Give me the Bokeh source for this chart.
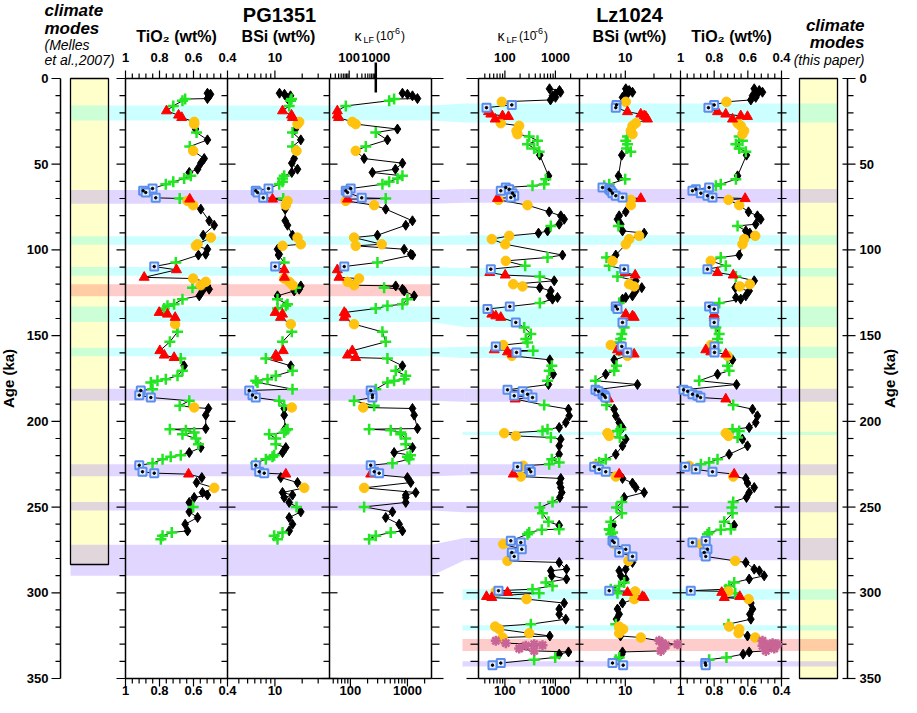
import numpy as np
from bokeh.plotting import figure
from bokeh.models import Range1d, LogScale, LinearScale
from bokeh.embed import file_html
from bokeh.resources import INLINE
from bokeh.core.properties import value

# ---------------- data: PG1351 ----------------
PG_AGE = [8.6, 9.2, 10.1, 11.7, 12.0, 13.0, 16.0, 18.9, 21.4, 22.8,
          25.3, 26.6, 29.5, 31.5, 35.8, 39.7, 42.2, 46.7, 49.4, 52.9,
          54.8, 56.8, 58.3, 60.3, 61.7, 64.2, 65.5, 66.5, 69.6, 70.0,
          70.4, 71.4, 73.9, 76.2, 83.0, 85.6, 91.4, 92.8, 96.7, 97.6,
          99.6, 102.5, 103.0, 107.3, 109.7, 111.6, 116.0, 116.7, 118.6, 120.6,
          121.0, 122.0, 122.9, 123.9, 126.8, 128.7, 131.7, 132.6, 134.2, 136.5,
          137.5, 139.4, 143.3, 147.8, 153.6, 158.8, 161.4, 162.8, 163.3, 167.6,
          170.5, 173.4, 175.4, 176.3, 177.3, 181.2, 182.0, 184.7, 186.1, 188.0,
          190.9, 191.9, 192.5, 196.4, 204.2, 204.6, 205.2, 206.5, 207.5, 210.0,
          213.3, 215.3, 218.2, 219.7, 220.7, 222.1, 224.4, 225.6, 229.4, 230.2,
          230.8, 232.8, 235.7, 238.8, 241.5, 243.0, 244.4, 247.3, 249.9, 252.8,
          256.1, 260.0, 263.9, 264.8, 266.8, 268.7]
PG_CLS = list("KKKKGGGRRR" "YYKGKGYKKK" "KGGGGBBBBG" "RYYKKKKYYY" "KKKGBRRYYY"
              "KGKKKGGGGR" "RRYGGRRRGK" "GGGGGGBBBG" "GYKKKGGGGG" "GKKGGGGBBB"
              "RKKYKKKKGK" "KKKGGG")
PG_TIO2 = [0.518, 0.500, 0.506, 0.518, 0.649, 0.665, 0.719, 0.759, 0.688, 0.669,
           0.596, 0.596, 0.588, 0.582, 0.518, 0.622, 0.602, 0.537, 0.557, 0.576,
           0.625, 0.616, 0.655, 0.719, 0.763, 0.841, 0.896, 0.881, 0.822, 0.681,
           0.622, 0.635, 0.602, 0.557, 0.508, 0.478, 0.543, 0.498, 0.576, 0.586,
           0.518, 0.528, 0.571, 0.704, 0.831, 0.700, 0.890, 0.602, 0.528, 0.557,
           0.518, 0.606, 0.508, 0.547, 0.566, 0.665, 0.714, 0.753, 0.772, 0.802,
           0.753, 0.708, 0.708, 0.694, 0.739, 0.798, 0.772, 0.714, 0.675, 0.655,
           0.665, 0.694, 0.763, 0.812, 0.851, 0.841, 0.910, 0.919, 0.851, 0.625,
           0.681, 0.596, 0.512, 0.528, 0.528, 0.739, 0.645, 0.596, 0.665, 0.586,
           0.571, 0.557, 0.625, 0.675, 0.734, 0.782, 0.841, 0.919, 0.900, 0.831,
           0.629, 0.551, 0.582, 0.478, 0.547, 0.518, 0.596, 0.625, 0.602, 0.625,
           0.576, 0.649, 0.635, 0.728, 0.782, 0.792]
PG_BSI = [11.24, 12.76, 14.86, 13.77, 15.24, 14.86, 14.37, 12.13, 15.24, 15.63,
          18.53, 17.75, 16.87, 15.63, 19.3, 15.63, 17.3, 16.32, 15.35, 17.75,
          15.35, 12.66, 12.13, 12.13, 11.15, 8.50, 6.15, 6.43, 7.43, 12.35,
          9.40, 13.77, 13.19, 12.99, 12.99, 13.77, 15.63, 17.75, 19.3, 12.13,
          10.68, 11.15, 10.96, 12.66, 10.07, 12.66, 12.76, 12.66, 14.37, 15.63,
          19.3, 17.0, 18.53, 16.32, 10.68, 10.68, 13.77, 13.19, 10.68, 10.07,
          12.13, 11.53, 14.97, 15.35, 12.13, 12.35, 10.23, 10.68, 7.94, 14.97,
          15.63, 10.23, 8.29, 6.15, 6.43, 15.63, 5.21, 5.66, 6.15, 11.15,
          12.66, 15.35, 12.66, 12.66, 12.99, 13.77, 13.19, 12.66, 8.65, 10.23,
          10.23, 13.19, 12.13, 9.82, 9.40, 7.94, 6.15, 6.15, 6.71, 7.62,
          13.19, 11.61, 17.75, 21.05, 12.13, 15.63, 12.66, 14.37, 17.3, 19.3,
          14.37, 15.63, 14.37, 12.13, 9.82, 10.68]
PG_KLF = [817, 1000, 1224, 1498, 584, 478, 83, 59, 59, 62,
          108, 124, 668, 278, 446, 186, 124, 174, 817, 616,
          243, 817, 668, 478, 364, 101, 83, 89, 158, 416,
          89, 83, 261, 416, 1224, 934, 298, 116, 354, 124,
          875, 1143, 1224, 298, 78, 59, 63, 142, 89, 116,
          623, 390, 817, 875, 1311, 1000, 817, 446, 278, 78,
          83, 78, 116, 364, 416, 108, 89, 124, 446, 817,
          623, 934, 875, 584, 446, 278, 227, 243, 243, 116,
          261, 167, 1224, 1311, 1498, 213, 509, 763, 763, 934,
          934, 1224, 584, 1129, 1000, 1071, 546, 227, 261, 319,
          227, 1000, 1143, 174, 1398, 934, 934, 934, 174, 546,
          416, 715, 817, 509, 278, 213]

# ---------------- data: Lz1024 ----------------
LZ_AGE = [6, 7, 8, 9, 10, 11, 12.5, 13.6, 15.4, 17,
          19.4, 20.8, 21.8, 22.2, 23.7, 26.1, 27.6, 30.5, 32.5, 33.8,
          36.3, 38.3, 40.8, 42.8, 44.7, 56.8, 58.7, 61.7, 62.6, 63.6,
          64.6, 65.5, 66.9, 68.4, 69.4, 70.0, 70.8, 73.9, 77.8, 80.1,
          82.1, 85.0, 86.0, 88.9, 90.2, 91.8, 93.7, 96.7, 103, 104.4,
          106.4, 109.3, 111.2, 113.2, 114.7, 115.5, 118, 120, 121.3, 122,
          123.9, 126.8, 127.7, 128.7, 131, 133, 134.5, 137.5, 138.5, 139.4,
          142.3, 145.2, 149.1, 152, 154, 155.5, 156.3, 158.3, 158.8, 159.5,
          159.8, 160.8, 161.8, 164.1, 167.6, 170.5, 172.5, 176.3, 178.5, 181.6,
          182.5, 184.2, 185.1, 186.1, 187, 190.5, 192.9, 196.8, 200.7, 203.6,
          204.6, 205.6, 206.9, 208.5, 209.4, 210.4, 214.3, 219.2, 222.1, 224,
          225, 225.9, 226.5, 228, 229.4, 230.8, 232.2, 233.3, 236, 238.6,
          241.5, 244.4, 247, 250.3, 253.6, 258.6, 260.6, 262.9, 263.2, 264.8,
          265.8, 269.7, 270.7, 271.6, 274.6, 276.5, 278.8, 281.4, 282.3, 286.2,
          287.2, 290.1, 292, 294, 296, 297.9, 298.8, 299.2, 299.8, 300.2,
          302.2, 302.8, 303.7, 306, 309.5, 312.5, 315.4, 318.3, 319.7, 321.2,
          323.6, 325.2, 326.1, 328, 329.4, 330, 330.6, 330.9, 332.5, 333.9,
          334.5, 335.8, 337.7, 339, 341, 342.2]
LZ_CLS = list("KKKKKKKYBB" "RRRRRYYYYG" "GGGGKKGGGB" "BBBBBRYYKK" "KKGKKYYYKG"
              "YGBRRGKYYK" "KKKKGBBRRR" "BGGGGYBRGR" "BRYKGGKGKB" "BBBBRGKKKK"
              "GGYYGKKKGG" "GYBBBRYKKK" "KKGGGGKGGG" "GBBYBBBYKK" "KKKGGGBYRG"
              "RRYKKKKGYY" "YKYPPPPPPP" "KKGGBB")
LZ_KLF = [764, 1205, 1262, 1004, 876, 1004, 800, 86.8, 137, 43.2,
          47.3, 52.6, 89.6, 117.8, 64.2, 82.9, 191.9, 169.7, 177.6, 303,
          442, 280, 380, 478, 491, 730, 645, 600, 352, 104.2,
          121.6, 82.9, 141.4, 152.8, 130.9, 71.3, 74.7, 280, 754, 1279,
          1493, 1189, 811, 698, 463, 121.6, 55.0, 101.4, 1382, 698,
          104.2, 252, 52.6, 50.2, 101.4, 491, 947, 146, 223, 491,
          811, 754, 1101, 876, 491, 125, 45.2, 55.0, 66.0, 82.9,
          164.3, 241, 326, 259, 280, 92.5, 66.0, 61.4, 363, 112.6,
          169.7, 141.4, 137, 775, 848, 754, 905, 698, 730, 112.6,
          223, 280, 152.8, 352, 159.9, 600, 1817, 1876, 1607, 1189,
          698, 555, 97, 164.3, 811, 1279, 1189, 1189, 848, 1189,
          754, 230, 177.6, 303, 326, 146, 206.4, 1279, 1222, 1279,
          1339, 1222, 876, 491, 555, 730, 1189, 1189, 538, 303,
          280, 130.9, 206.4, 92.5, 216, 137, 152.8, 112.6, 1189, 1659,
          811, 848, 1659, 645, 876, 352, 74.7, 66.0, 112.6, 478,
          43.2, 55.0, 268, 1493, 1189, 1189, 1607, 326, 64.2, 77,
          303, 775, 89.6, 66.0, 104.2, 380, 555, 259, 191.9, 380,
          1817, 1189, 991, 380, 82.9, 56.8]
LZ_BSI = [10.11, 10.98, 11.89, 10.54, 9.73, 9.34, 10.11, 10.11, 8.08, 7.94,
          10.54, 14.53, 15.78, 16.40, 17.09, 12.88, 11.89, 11.41, 11.89, 10.54,
          10.11, 10.54, 10.29, 11.41, 9.18, 8.47, 9.97, 6.77, 6.00, 5.76,
          6.77, 7.03, 7.33, 7.94, 9.34, 14.53, 11.41, 11.41, 10.11, 8.62,
          8.27, 8.96, 8.47, 9.34, 15.78, 13.98, 10.98, 10.11, 7.94, 6.34,
          7.33, 6.77, 9.73, 9.97, 12.69, 8.27, 12.88, 10.98, 12.39, 14.89,
          12.88, 11.89, 10.11, 9.34, 8.62, 7.94, 8.27, 10.11, 11.89, 12.39,
          9.34, 9.73, 9.18, 8.96, 8.62, 7.03, 9.18, 8.27, 8.62, 8.96,
          10.54, 12.39, 10.54, 7.64, 8.08, 7.64, 6.23, 4.86, 13.42, 4.86,
          5.22, 5.76, 6.04, 6.19, 6.65, 6.34, 7.64, 7.94, 8.62, 9.34,
          8.96, 8.27, 6.49, 6.77, 8.75, 10.11, 9.34, 7.94, 6.23, 5.31,
          4.90, 4.82, 4.71, 5.31, 6.23, 8.62, 7.94, 9.34, 11.89, 12.88,
          15.78, 9.73, 9.18, 8.08, 9.18, 7.03, 7.46, 6.77, 6.87, 7.33,
          7.03, 7.33, 7.64, 7.64, 10.11, 8.62, 11.89, 10.79, 11.89, 10.11,
          8.62, 8.96, 10.11, 9.73, 8.62, 7.03, 6.77, 12.69, 10.54, 8.27,
          15.14, 15.78, 12.39, 9.34, 8.27, 8.62, 8.08, 7.94, 8.62, 9.49,
          8.62, 8.90, 14.53, 22.69, 24.57, 35.3, 26.61, 25.60, 24.57, 23.58,
          9.34, 9.18, 8.62, 7.94, 7.33, 9.49]
LZ_TIO2 = [0.562, 0.532, 0.513, 0.543, 0.572, 0.553, 0.582, 0.727, 0.800, 0.834,
           0.780, 0.731, 0.642, 0.602, 0.691, 0.661, 0.642, 0.622, 0.632, 0.651,
           0.632, 0.671, 0.651, 0.612, 0.608, 0.661, 0.671, 0.761, 0.790, 0.830,
           0.909, 0.929, 0.879, 0.840, 0.810, 0.616, 0.715, 0.651, 0.596, 0.543,
           0.523, 0.553, 0.661, 0.612, 0.588, 0.556, 0.622, 0.632, 0.651, 0.761,
           0.820, 0.731, 0.840, 0.780, 0.687, 0.671, 0.562, 0.588, 0.648, 0.675,
           0.592, 0.612, 0.671, 0.642, 0.770, 0.830, 0.800, 0.800, 0.800, 0.800,
           0.800, 0.790, 0.770, 0.780, 0.780, 0.820, 0.798, 0.850, 0.790, 0.820,
           0.798, 0.731, 0.721, 0.691, 0.721, 0.711, 0.780, 0.889, 0.667, 0.982,
           0.958, 0.929, 0.899, 0.881, 0.731, 0.687, 0.572, 0.543, 0.553, 0.592,
           0.691, 0.651, 0.731, 0.715, 0.661, 0.632, 0.602, 0.711, 0.780, 0.830,
           0.879, 0.948, 0.972, 0.909, 0.810, 0.681, 0.687, 0.612, 0.602, 0.562,
           0.592, 0.608, 0.687, 0.695, 0.691, 0.740, 0.681, 0.701, 0.761, 0.830,
           0.840, 0.850, 0.929, 0.879, 0.840, 0.859, 0.850, 0.675, 0.612, 0.562,
           0.532, 0.503, 0.592, 0.681, 0.711, 0.731, 0.939, 0.715, 0.755, 0.675,
           0.648, 0.740, 0.596, 0.582, 0.572, 0.588, 0.582, 0.715, 0.711, 0.651,
           0.655, 0.602, 0.556, 0.513, 0.453, 0.424, 0.483, 0.513, 0.443, 0.493,
           0.592, 0.628, 0.727, 0.830, 0.853, 0.850]

# ---------------- climate-mode bands (ka) ----------------
PG_BAND_TOP = [15.7, 65, 92, 110, 120, 133, 157, 181, 225, 247, 272]
PG_BAND_BOT = [24.5, 73, 97, 115, 127, 142, 162, 188, 232, 252, 290]
PG_BAND_KIND = ["cyan", "purple", "cyan", "cyan", "pink", "cyan", "cyan",
                "purple", "purple", "purple", "purple"]
LZ_BAND_TOP = [14.6, 64.5, 91.5, 110.5, 133, 156.5, 181, 206, 225, 247, 268, 298, 319, 327, 340]
LZ_BAND_BOT = [25.7, 72.5, 97, 115.5, 145, 163, 188.5, 208, 231.5, 253, 281, 304, 322, 334, 343]
LZ_BAND_KIND = ["cyan", "purple", "cyan", "cyan", "cyan", "cyan", "purple", "cyan",
                "purple", "purple", "purple", "cyan", "cyan", "pink", "purple"]
BAND_LINKS = [(0, 0), (1, 1), (2, 2), (3, 3), (5, 4), (6, 5), (7, 6), (8, 8), (9, 9), (10, 10)]
CLIMATE_LEFT_END = 283.5
CLIMATE_RIGHT_END = 350

# ---------------- tick values ----------------
AGE_TICKS = [0, 50, 100, 150, 200, 250, 300, 350]
AGE_LABELS = ["0", "50", "100", "150", "200", "250", "300", "350"]
AGE_MINOR = [a for a in range(0, 351, 10) if a % 50 != 0]
TIO2_MAJOR = [1.0, 0.8, 0.6, 0.4]
TIO2_LABELS = ["1", "0.8", "0.6", "0.4"]
TIO2_MINOR = [0.96, 0.92, 0.88, 0.84, 0.76, 0.72, 0.68, 0.64, 0.56, 0.52, 0.48, 0.44]
BSI_MAJOR = [10]
BSI_LABELS = ["10"]
BSI_MINOR = [4, 5, 6, 7, 8, 9, 20, 30]
K_MAJOR = [100, 1000]
K_LABELS = ["100", "1000"]
KPG_MINOR = [50, 60, 70, 80, 90, 200, 300, 400, 500, 600, 700, 800, 900, 2000]
KPG_TOP_MINOR = [20, 30, 40, 50, 60, 70, 80, 90, 200, 300, 400, 500, 600, 700, 800, 900]
KLZ_MINOR = [40, 50, 60, 70, 80, 90, 200, 300, 400, 500, 600, 700, 800, 900, 2000]

# ---------------- layout ----------------
FONT = "Liberation Sans"
PX = 600 / 350.0          # pixels per ka
FX0, FX1 = 8, 909          # frame = whole canvas, in page px
W, H = 901, 697


def Y(py):
    return (py - 86) / PX


def make_range(pa, va, pb, vb, log):
    if log:
        la, lb = np.log10(va), np.log10(vb)
        s = (lb - la) / (pb - pa)
        return Range1d(float(10 ** (la + (FX0 - pa) * s)), float(10 ** (la + (FX1 - pa) * s)))
    s = (vb - va) / (pb - pa)
    return Range1d(float(va + (FX0 - pa) * s), float(va + (FX1 - pa) * s))


p = figure(width=W, height=H, output_backend="svg", toolbar_location=None, tools="",
           x_range=Range1d(FX0, FX1), y_range=Range1d(350 + (705 - 686) / PX, Y(8)),
           x_axis_location=None, y_axis_location=None, title=None,
           min_border_left=0, min_border_right=0, min_border_top=0, min_border_bottom=0,
           outline_line_color=None, background_fill_color="white", border_fill_color="white")
p.xgrid.visible = False
p.ygrid.visible = False

PANELS = [
    ("pg_ti", 133, 235, 1.0, 0.4, False, PG_AGE, PG_CLS, PG_TIO2),
    ("pg_bsi", 235, 337, 3.0, 40.0, True, PG_AGE, PG_CLS, PG_BSI),
    ("pg_k", 337, 439, 43.0, 2640.0, True, PG_AGE, PG_CLS, PG_KLF),
    ("lz_k", 486, 587, 30.0, 3000.0, True, LZ_AGE, LZ_CLS, LZ_KLF),
    ("lz_bsi", 587, 688, 3.3, 38.0, True, LZ_AGE, LZ_CLS, LZ_BSI),
    ("lz_ti", 688, 789, 1.0, 0.4, False, LZ_AGE, LZ_CLS, LZ_TIO2),
]
ranges, scales = {}, {}
for name, pa, pb, va, vb, lg, *_ in PANELS:
    ranges[name] = make_range(pa, va, pb, vb, lg)
    scales[name] = LogScale() if lg else LinearScale()
ranges["pg_k_top"] = make_range(356.7, 100.0, 383.3, 1000.0, True)
scales["pg_k_top"] = LogScale()
p.extra_x_ranges = ranges
p.extra_x_scales = scales

TXT = dict(text_font=value(FONT), text_color="black", text_baseline="middle")

# ---------------- climate boxes + bands ----------------
p.quad(left=[78], right=[116], top=[0], bottom=[CLIMATE_LEFT_END], fill_color="#ffffcc", line_color=None)
p.quad(left=[807], right=[845], top=[0], bottom=[CLIMATE_RIGHT_END], fill_color="#ffffcc", line_color=None)

BAND_STYLE = {"cyan": ("#00ffff", 0.2), "purple": ("#9a78ff", 0.3), "pink": ("#ff0000", 0.2)}
linked_lz = {b for _, b in BAND_LINKS}
for t, b, k in zip(PG_BAND_TOP, PG_BAND_BOT, PG_BAND_KIND):
    c, a = BAND_STYLE[k]
    p.quad(left=[78], right=[439], top=[t], bottom=[b], fill_color=c, fill_alpha=a, line_color=None)
for i, (t, b, k) in enumerate(zip(LZ_BAND_TOP, LZ_BAND_BOT, LZ_BAND_KIND)):
    c, a = BAND_STYLE[k]
    p.quad(left=[472 if i in linked_lz else 470], right=[845], top=[t], bottom=[b],
           fill_color=c, fill_alpha=a, line_color=None)
for ia, ib in BAND_LINKS:
    c, a = BAND_STYLE[PG_BAND_KIND[ia]]
    p.patch(x=[439, 472, 472, 439], y=[PG_BAND_TOP[ia], LZ_BAND_TOP[ib], LZ_BAND_BOT[ib], PG_BAND_BOT[ia]],
            fill_color=c, fill_alpha=a, line_color=None)

p.quad(left=[78], right=[116], top=[0], bottom=[CLIMATE_LEFT_END], fill_alpha=0, line_color="black", line_width=1.3)
p.quad(left=[807], right=[845], top=[0], bottom=[CLIMATE_RIGHT_END], fill_alpha=0, line_color="black", line_width=1.3)

# ---------------- age axes (left and right) ----------------
def age_axis(x, maj_l, maj_r, min_l, min_r, label_x, align, title_x):
    p.segment(x0=[x], y0=[0], x1=[x], y1=[350], line_color="black", line_width=1.5)
    n = len(AGE_TICKS)
    p.segment(x0=[x - maj_l] * n, y0=AGE_TICKS, x1=[x + maj_r] * n, y1=AGE_TICKS, line_color="black", line_width=1.2)
    n = len(AGE_MINOR)
    p.segment(x0=[x - min_l] * n, y0=AGE_MINOR, x1=[x + min_r] * n, y1=AGE_MINOR, line_color="black", line_width=1.2)
    p.text(x=[label_x] * len(AGE_TICKS), y=AGE_TICKS, text=AGE_LABELS, text_align=align,
           text_font_style="bold", text_font_size="13px", **TXT)
    p.text(x=[title_x], y=[175], text=["Age (ka)"], angle=np.pi / 2, text_align="center",
           text_font_style="bold", text_font_size="15px", **TXT)


age_axis(68, 9, 0, 5, 0, 56, "right", 16)
age_axis(855, 5, 8, 0, 6, 867, "left", 897)

# ---------------- panel frames ----------------
EDGES = [(133, 6, 0, 9, 0), (235, 6, 0, 8, 8), (337, 6, 0, 8, 8), (439, 0, 8, 0, 12),
         (486, 8, 0, 12, 0), (587, 4, 4, 8, 8), (688, 4, 4, 8, 8), (789, 4, 5, 7, 8)]
for ex, ml, mr, Ml, Mr in EDGES:
    p.segment(x0=[ex], y0=[0], x1=[ex], y1=[350], line_color="black", line_width=1.5)
    n = len(AGE_MINOR)
    p.segment(x0=[ex - ml] * n, y0=AGE_MINOR, x1=[ex + mr] * n, y1=AGE_MINOR, line_color="black", line_width=1.2)
    n = len(AGE_TICKS)
    p.segment(x0=[ex - Ml] * n, y0=AGE_TICKS, x1=[ex + Mr] * n, y1=AGE_TICKS, line_color="black", line_width=1.2)
for xa, xb in ((133, 439), (486, 789)):
    p.segment(x0=[xa, xa], y0=[0, 350], x1=[xb, xb], y1=[0, 350], line_color="black", line_width=1.5)


def scale_ticks(name, major, minor, labels, top=True, bottom=True):
    for vals, ln in ((major, 8), (minor, 5)):
        n = len(vals)
        if top:
            p.segment(x0=vals, y0=[0] * n, x1=vals, y1=[-ln / PX] * n, x_range_name=name,
                      line_color="black", line_width=1.2)
        if bottom:
            p.segment(x0=vals, y0=[350] * n, x1=vals, y1=[350 + ln / PX] * n, x_range_name=name,
                      line_color="black", line_width=1.2)
    lab = dict(x_range_name=name, text_font_style="bold", text_font_size="13px", text_align="center", **TXT)
    if top:
        p.text(x=major, y=[Y(65)] * len(major), text=labels, **lab)
    if bottom:
        p.text(x=major, y=[Y(698)] * len(major), text=labels, **lab)


scale_ticks("pg_ti", TIO2_MAJOR, TIO2_MINOR, TIO2_LABELS)
scale_ticks("pg_bsi", BSI_MAJOR, BSI_MINOR, BSI_LABELS)
scale_ticks("pg_k", K_MAJOR, KPG_MINOR, K_LABELS, top=False)
scale_ticks("pg_k_top", K_MAJOR, KPG_TOP_MINOR, K_LABELS, bottom=False)
p.segment(x0=[1000], y0=[Y(70)], x1=[1000], y1=[Y(100)], x_range_name="pg_k_top", line_color="black", line_width=2.5)
scale_ticks("lz_k", K_MAJOR, KLZ_MINOR, K_LABELS)
scale_ticks("lz_bsi", BSI_MAJOR, BSI_MINOR, BSI_LABELS)
scale_ticks("lz_ti", TIO2_MAJOR, TIO2_MINOR, TIO2_LABELS)

# ---------------- data ----------------
STYLES = {
    "K": dict(marker="diamond", size=10, fill_color="black", line_color="black"),
    "G": dict(marker="cross", size=11, line_color="#22e622", line_width=2.5),
    "Y": dict(marker="circle", size=9.5, fill_color="#ffc20e", line_color="#ffc20e"),
    "R": dict(marker="triangle", size=10, fill_color="#ff0000", line_color="#ff0000"),
    "B": dict(marker="square", size=8, fill_color="#e4eeff", line_color="#5b8def", line_width=2),
    "P": dict(marker="asterisk", size=10, line_color="#c86496", line_width=2.5),
}
for name, pa, pb, va, vb, lg, ages, cls, vals in PANELS:
    p.line(x=vals, y=ages, x_range_name=name, line_color="black", line_width=1)
    for c in "KGYRPB":
        idx = [i for i, k in enumerate(cls) if k == c]
        if not idx:
            continue
        xs = [vals[i] for i in idx]
        ys = [ages[i] for i in idx]
        p.scatter(x=xs, y=ys, x_range_name=name, **STYLES[c])
        if c == "B":
            p.scatter(x=xs, y=ys, x_range_name=name, marker="circle", size=2.5, color="black")

# ---------------- header texts ----------------
def lab(x, py, text, size, style="bold", align="center"):
    p.text(x=[x], y=[Y(py)], text=[text], text_font_size=size, text_font_style=style,
           text_align=align, **TXT)


lab(287, 22, "PG1351", "20px")
lab(637, 22, "Lz1024", "20px")
lab(184, 44, "TiO\u2082 (wt%)", "16px")
lab(286, 44, "BSi (wt%)", "16px")
lab(739, 44, "TiO\u2082 (wt%)", "16px")
lab(637, 44, "BSi (wt%)", "16px")
for x0 in (362, 505):
    lab(x0, 43, "\u03ba", "14px", "normal", "left")
    lab(x0 + 9, 47, "LF", "9px", "normal", "left")
    lab(x0 + 21.5, 43, "(10", "12px", "normal", "left")
    lab(x0 + 37.5, 38, "-6", "9px", "normal", "left")
    lab(x0 + 46.5, 43, ")", "12px", "normal", "left")
lab(52, 18, "climate", "17px", "bold italic", "left")
lab(52, 36, "modes", "17px", "bold italic", "left")
lab(52, 52, "(Melles", "14px", "italic", "left")
lab(52, 67, "et al.,2007)", "14px", "italic", "left")
lab(872, 33, "climate", "17px", "bold italic", "right")
lab(872, 50, "modes", "17px", "bold italic", "right")
lab(872, 67, "(this paper)", "14px", "italic", "right")

open("out.html", "w").write(file_html(p, INLINE))
